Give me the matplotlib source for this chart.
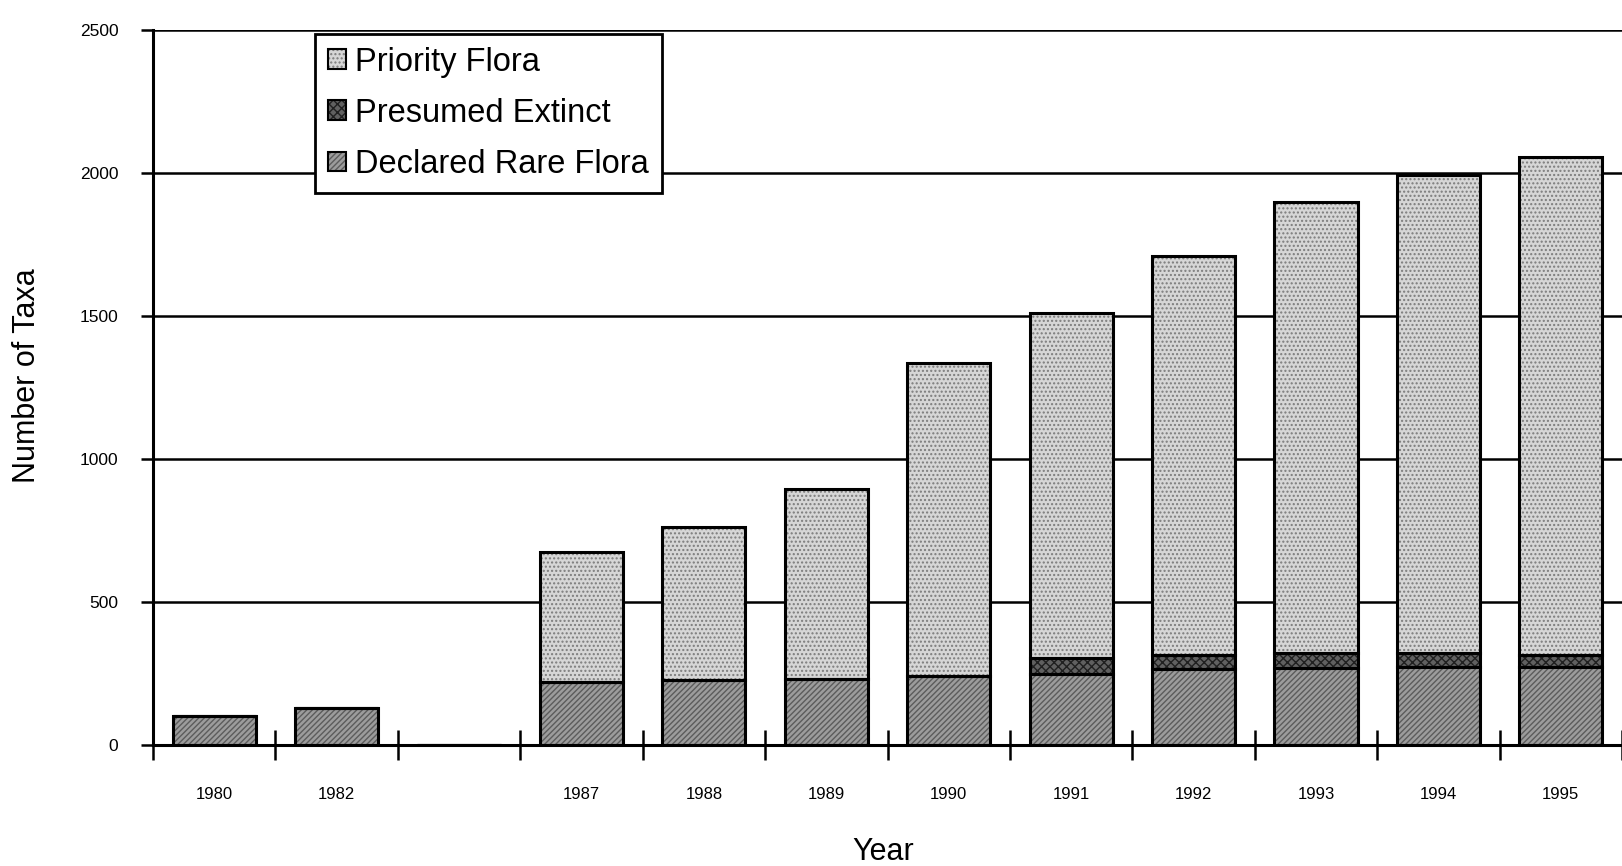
import numpy as np
import matplotlib
matplotlib.use('Agg')
import matplotlib.pyplot as plt
from matplotlib.patches import Patch
from matplotlib.legend_handler import HandlerTuple

# ---- data ----
years = ['1980', '1982', '', '1987', '1988', '1989', '1990',
         '1991', '1992', '1993', '1994', '1995']
declared_rare = [100, 130, 0, 222, 226, 232, 240, 250, 265, 268, 272, 272]
presumed_extinct = [0, 0, 0, 0, 0, 0, 0, 55, 51, 53, 49, 44]
priority_flora = [0, 0, 0, 454, 536, 662, 1095, 1205, 1393, 1579, 1671, 1739]
y_ticks = [0, 500, 1000, 1500, 2000, 2500]

plt.rcParams['font.family'] = ['Liberation Sans', 'DejaVu Sans']
plt.rcParams['hatch.linewidth'] = 1.0

fig = plt.figure(figsize=(16.22, 8.66), dpi=100)
ax = fig.add_axes([153 / 1622, 1 - 745 / 866, 1 - 153 / 1622, (745 - 30) / 866])

x = np.arange(len(years))
width = 0.68

series = [
    ('Declared Rare Flora', declared_rare, '#9c9c9c', '//////', '#5c5c5c'),
    ('Presumed Extinct', presumed_extinct, '#606060', 'xxxx', '#202020'),
    ('Priority Flora', priority_flora, '#d6d6d6', '....', '#7c7c7c'),
]

bottom = np.zeros(len(years))
handles = {}
for name, vals, face, hatch, hcol in series:
    vals = np.asarray(vals, dtype=float)
    with plt.rc_context({'hatch.color': hcol}):
        ax.bar(x, vals, width, bottom=bottom, color=face, hatch=hatch,
               linewidth=0, zorder=2)
        ph = Patch(facecolor=face, hatch=hatch, linewidth=0)
    ax.bar(x, vals, width, bottom=bottom, fill=False, edgecolor='black',
           linewidth=2.2, zorder=3)
    po = Patch(fill=False, edgecolor='black', linewidth=1.5)
    handles[name] = (ph, po)
    bottom = bottom + vals

# axes styling
ax.set_xlim(-0.5, len(years) - 0.5)
ax.set_ylim(0, 2500)
ax.set_yticks(y_ticks)
ax.set_axisbelow(True)
ax.yaxis.grid(True, color='black', linewidth=1.8)
for s in ['top', 'right']:
    ax.spines[s].set_visible(False)
for s in ['left', 'bottom']:
    ax.spines[s].set_linewidth(2.2)

ax.tick_params(axis='y', direction='out', length=9, width=1.8, pad=16,
               labelsize=12.5)
ax.set_xticks(x)
ax.set_xticklabels(years)
ax.tick_params(axis='x', which='major', length=0, pad=30, labelsize=12)
ax.set_xticks(np.arange(-0.5, len(years), 1.0), minor=True)
ax.tick_params(axis='x', which='minor', direction='inout', length=22,
               width=1.8)

ax.set_xlabel('Year', fontsize=22)
ax.xaxis.set_label_coords(0.497, -0.128)
ax.set_ylabel('Number of Taxa', fontsize=22)
ax.yaxis.set_label_coords(-0.0756, 0.517)

order = ['Priority Flora', 'Presumed Extinct', 'Declared Rare Flora']
leg = ax.legend([handles[n] for n in order], order,
                handler_map={tuple: HandlerTuple(ndivide=1)},
                loc='upper left', bbox_to_anchor=(0.110, 0.995),
                fontsize=23.5, frameon=True, fancybox=False, framealpha=1,
                edgecolor='black', handlelength=0.55, handleheight=0.55,
                handletextpad=0.3, labelspacing=0.62, borderpad=0.4,
                borderaxespad=0)
leg.get_frame().set_linewidth(2.0)

fig.savefig('out.png', dpi=100)
